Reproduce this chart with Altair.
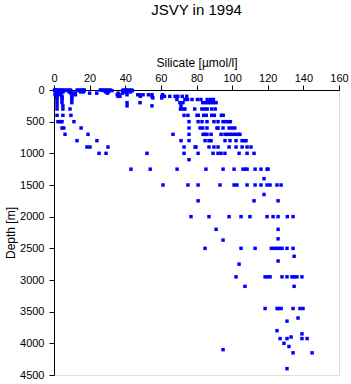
import altair as alt
import pandas as pd

# Depth levels [m] and silicate values [umol/l] read at each level
depth_levels = [0, 10, 30, 50, 75, 100, 125, 150, 200, 250, 300, 400, 500, 600, 700, 800,
                900, 1000, 1100, 1250, 1400, 1500, 1650, 1750, 2000, 2200, 2350, 2370, 2500,
                2625, 2700, 2750, 2950, 3100, 3450, 3600, 3650, 3800, 3850, 3900, 3925, 4000,
                4050, 4100, 4150, 4400]

silicate_by_level = [
    [0.3, 1, 2, 3.5, 4.5, 6, 7.5, 9, 13, 14.5, 16, 17, 26, 27, 28.5, 30, 31.5, 39, 40.5, 42, 43.5],
    [0.5, 1.5, 2.5, 4, 5.5, 8, 9.5, 14, 15.5, 17, 28, 29.5, 31, 32.5, 38.5, 40, 41.5, 44],
    [0.8, 2, 3, 5, 8.5, 10, 15, 16.5, 29, 30.5, 39.5, 41, 43],
    [1, 2.5, 4, 9.5, 11, 12, 20, 24, 30, 36, 38.5],
    [0.6, 2, 3.5, 10, 12, 35.5, 36.5, 41, 47, 48, 50, 53, 55, 61],
    [1.5, 4.5, 10, 36, 37, 48.5, 55, 60.5, 62, 65, 68, 69.5, 72, 74.5],
    [1.7, 4.5, 10, 55.5, 60.5],
    [1.7, 4.5, 10, 69, 73.5, 75, 77.5, 80.5, 82.5, 86, 88, 89.5],
    [1.7, 4.5, 10, 41, 48.3, 70.7, 72.4, 83.5, 85, 86.5, 88, 89.5, 91],
    [1.7, 5, 41, 55, 71.3],
    [1.7, 5, 9, 71, 72.5, 73.5, 79, 83, 84.5, 86, 88.5, 90.5],
    [1.7, 5, 9.5, 73, 75.2, 80.3, 81, 84, 85.5, 88.5, 90, 94, 95],
    [2.2, 3.5, 4.5, 11.2, 75.8, 80.9, 83.1, 85.9, 89.8, 92.1, 94.9, 96.5, 98, 99],
    [4.5, 5.5, 15.2, 75.8, 82, 83.5, 85.9, 91.5, 92.1, 94.9, 98.3, 100, 101.5],
    [6.2, 19.1, 66.8, 75.8, 83.7, 84.8, 85.9, 88.2, 93.8, 96, 97.5, 99, 100.5, 102, 103.5, 104.4],
    [12.9, 24.1, 71.3, 75.8, 84.8, 87, 88.2, 96, 98.8, 102.2, 105.6, 107, 107.8],
    [18.5, 20.2, 30.3, 73, 79.2, 79.7, 87, 89.8, 92.1, 98.3, 102.2, 105.6, 108.4, 110.6],
    [25.3, 29.2, 52.2, 73, 80.9, 89.3, 92.1, 93.8, 96, 103.9, 108.4, 112.3],
    [75.8],
    [43.2, 54, 69.1, 85.3, 94.9, 101.1, 106.1, 107.5, 108.4, 112.9, 116.2, 119.6, 120.2],
    [117.9],
    [61.2, 75.2, 80.9, 93.2, 101.1, 102.7, 108.4, 112.9, 116.2, 119.6, 121.3, 125.2, 127.5],
    [117.9],
    [80.9, 112.3, 125.8],
    [76.9, 87, 98.3, 105, 110, 119.6, 123, 125.8, 131, 134.2],
    [91, 125.8],
    [125.8],
    [94.9],
    [84.8, 105, 112.9, 122, 123.5, 125, 126.5, 128, 130.8, 134.2],
    [134.8],
    [125.8],
    [103.9],
    [102.2, 118.5, 120, 121.3, 128, 130.8, 133.6, 135, 136.4, 139.2],
    [107.2, 134.8],
    [118.5, 125.2, 126.3, 127.5, 134.2, 138.1, 139.8],
    [137],
    [130.8],
    [125.2],
    [139.2],
    [133.1],
    [126.9, 130.8, 139.2, 142.1],
    [129.1],
    [131.9],
    [94.9],
    [134.2, 144.9],
    [130.8],
]

x_ticks = [0, 20, 40, 60, 80, 100, 120, 140, 160]
y_ticks = [0, 500, 1000, 1500, 2000, 2500, 3000, 3500, 4000, 4500]

rows = []
for d, vals in zip(depth_levels, silicate_by_level):
    for v in vals:
        rows.append({"silicate": v, "depth": d})
df = pd.DataFrame(rows)

FONT = "Liberation Sans"

chart = alt.Chart(df).mark_point(
    shape="square", filled=True, size=12, color="#0000FF", opacity=1, strokeWidth=0
).encode(
    x=alt.X("silicate:Q",
            scale=alt.Scale(domain=[0, 160], nice=False, zero=False),
            axis=alt.Axis(orient="top", values=x_ticks, title="Silicate [µmol/l]", format="d",
                          grid=False, labelFlush=False, labelFontSize=11, titleFontSize=12,
                          titleFontWeight="normal", tickSize=5, labelPadding=2,
                          titlePadding=3, domainColor="black", tickColor="black",
                          labelColor="black", titleColor="black")),
    y=alt.Y("depth:Q",
            scale=alt.Scale(domain=[0, 4500], reverse=True, nice=False, zero=False),
            axis=alt.Axis(values=y_ticks, title="Depth [m]", format="d", grid=False,
                          labelFlush=False, labelFontSize=11, titleFontSize=12,
                          titleFontWeight="normal", tickSize=5, labelPadding=5,
                          titlePadding=2, domainColor="black", tickColor="black",
                          labelColor="black", titleColor="black")),
).properties(
    width=285,
    height=285,
    title=alt.TitleParams("JSVY in 1994", fontSize=15, fontWeight="normal", font=FONT,
                          anchor="middle", offset=38, color="black"),
    padding={"left": 54, "top": 90, "right": 12, "bottom": 9},
    autosize=alt.AutoSizeParams(type="none"),
).configure_axis(
    labelFont=FONT, titleFont=FONT, domainWidth=1, tickWidth=1
).configure_view(
    stroke=None
).configure(background="white")

chart.save("out.html", embed_options={"renderer": "svg", "actions": False})
